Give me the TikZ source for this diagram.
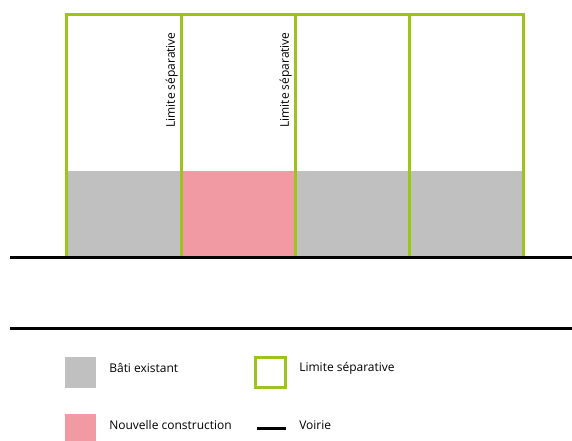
\documentclass[tikz,border=0pt]{standalone}
\usepackage{fontspec}
\setmainfont{Open Sans}
\usetikzlibrary{positioning}

\definecolor{limitegreen}{HTML}{9DC41A}
\definecolor{batigray}{HTML}{C0C0C0}
\definecolor{nouvpink}{HTML}{F29AA4}

\begin{document}
\begin{tikzpicture}[
            x = 1pt, y = -1pt, % pixel grid, y going down
            font = \fontsize{12}{14}\selectfont,
            semithick % line style
        ]

        \tikzstyle{limite}=[
            draw = limitegreen,
            line width = 3pt
        ]
        \tikzstyle{voirie}=[
            draw = black,
            line width = 3pt
        ]
        \tikzstyle{key}=[
            minimum size = 31pt,
            inner sep = 0pt
        ]
        \tikzstyle{keytext}=[
            anchor = west,
            inner sep = 0pt
        ]

	\useasboundingbox (0,0) rectangle (572,440);

	% buildings
	\fill[batigray] (66,171) rectangle (181,257);
	\fill[nouvpink] (181,171) rectangle (295,257);
	\fill[batigray] (295,171) rectangle (409,257);
	\fill[batigray] (409,171) rectangle (523,257);

	% plots
	\draw[limite] (66,257) -- (66,14) -- (523,14) -- (523,257);
	\foreach \x in {181,295,409}
		\draw[limite] (\x,14) -- (\x,257);

	\node[rotate=90, anchor=south east, inner sep=1pt] (lim1) at (179,31) {Limite séparative};
	\node[rotate=90, anchor=south east, inner sep=1pt] (lim2) at (293,31) {Limite séparative};

	% road
	\draw[voirie] (10,257.5) -- (572,257.5);
	\draw[voirie] (10,328.5) -- (572,328.5);

	% legend
	\node[key, fill=batigray] (bati) at (80.5,372) {};
	\node[key, fill=nouvpink] (nouv) at (80.5,429) {};
	\node[key, minimum size=30pt, limite] (lim) at (270.5,372) {};
	\coordinate (v1) at (257,428);
	\coordinate (v2) at (286,428);
	\draw[voirie] (v1) -- (v2);

	\node[keytext] (batitxt) at (109,368) {Bâti existant};
	\node[keytext] (nouvtxt) at (109,425) {Nouvelle construction};
	\node[keytext] (limtxt) at (299,368) {Limite séparative};
	\node[keytext] (voirtxt) at (299,425) {Voirie};

    \end{tikzpicture}
\end{document}
